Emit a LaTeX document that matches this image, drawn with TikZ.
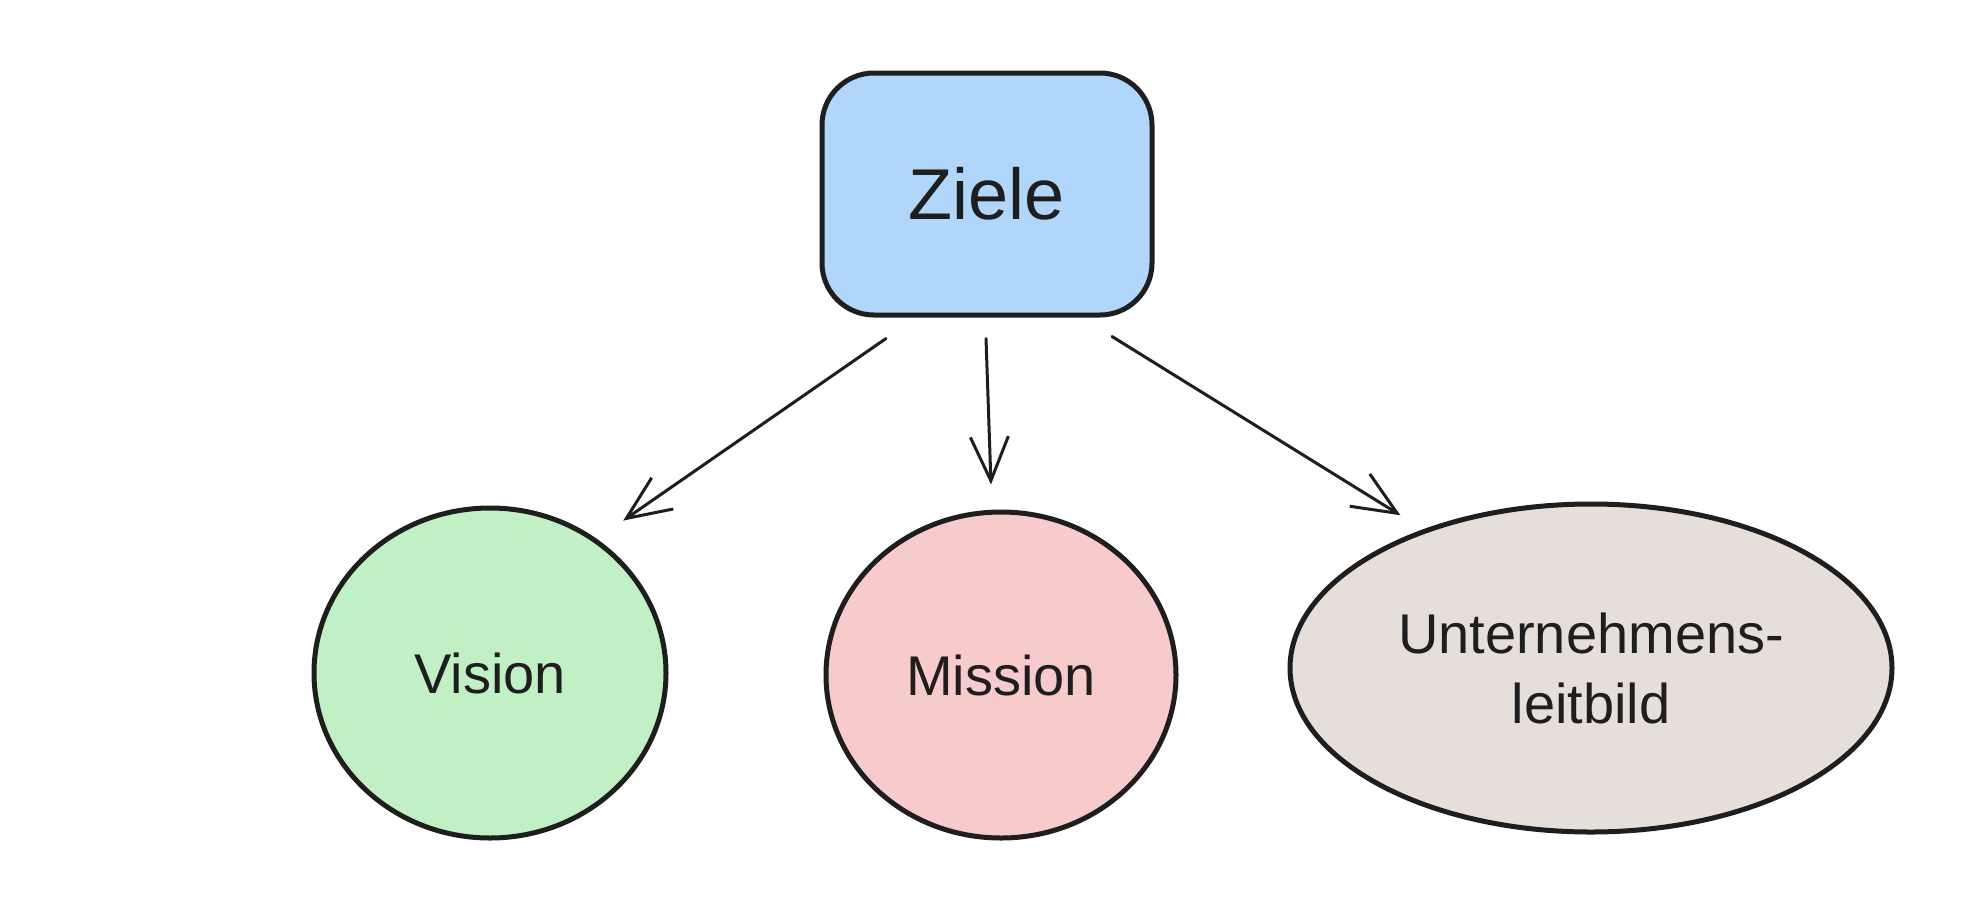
\documentclass[tikz,border=0pt]{standalone}
\usepackage{fontspec}
\setmainfont{Liberation Sans}
\usetikzlibrary{shapes.geometric,arrows.meta,calc}
\definecolor{ink}{HTML}{1E1E1E}
\definecolor{zblue}{RGB}{176,215,250}
\definecolor{zgreen}{RGB}{192,240,196}
\definecolor{zpink}{RGB}{247,202,203}
\definecolor{zbeige}{RGB}{230,222,216}
\tikzset{
  shapeline/.style={draw=ink, line width=5pt, text=ink},
  boxnode/.style={shapeline, rectangle, rounded corners=52pt, minimum width=330pt, minimum height=242pt, inner sep=0pt, fill=zblue},
  ovalnode/.style={shapeline, ellipse, inner sep=0pt, align=center},
  lowtext/.style={font=\fontsize{56}{70}\selectfont},
  conn/.style={draw=ink, line width=3pt, line cap=round, -{Straight Barb[length=44pt,width=38pt,line width=3pt]}}
}
\begin{document}
\begin{tikzpicture}[x=1pt,y=-1pt]
\useasboundingbox[fill=white] (0,0) rectangle (1968,914);
\node[boxnode, font=\fontsize{72}{80}\selectfont] (ziele) at (987,194) {Ziele};
\node[ovalnode, lowtext, fill=zgreen, minimum width=352pt, minimum height=330pt] (vision) at (490,673) {Vision};
\node[ovalnode, lowtext, fill=zpink, minimum width=350pt, minimum height=326pt] (mission) at (1001,675) {Mission};
\node[ovalnode, lowtext, fill=zbeige, minimum width=602pt, minimum height=328pt] (leitbild) at (1591,668) {Unternehmens-\\leitbild};
\draw[conn] ($(ziele.south)+(-101,21)$) -- ($(vision.north east)+(7,-34)$);
\draw[conn] ($(ziele.south)+(-1,21)$) -- ($(mission.north)+(-10,-25)$);
\draw[conn] ($(ziele.south)+(125,19)$) -- ($(leitbild.north west)+(24,-35)$);
\end{tikzpicture}
\end{document}
